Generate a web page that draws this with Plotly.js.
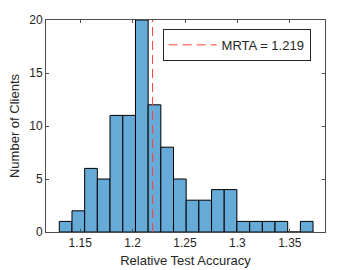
<!DOCTYPE html>
<html>
<head>
<meta charset="utf-8">
<script src="https://cdn.plot.ly/plotly-3.0.1.min.js"></script>
<style>html,body{margin:0;padding:0;background:#fff;}#chart{width:360px;height:270px;}</style>
</head>
<body>
<div id="chart"></div>
<script>
// Histogram bin edges (Relative Test Accuracy)
const binEdges = [1.1300, 1.1421, 1.1542, 1.1663, 1.1784, 1.1906, 1.2027, 1.2148, 1.2269, 1.2390, 1.2511,
                  1.2632, 1.2753, 1.2874, 1.2995, 1.3117, 1.3238, 1.3359, 1.3480, 1.3601, 1.3722];
// Number of clients per bin
const counts = [1, 2, 6, 5, 11, 11, 20, 12, 8, 5, 3, 3, 4, 4, 1, 1, 1, 1, 0, 1];
// Mean relative test accuracy
const mrta = 1.219;
const mrtaLineY = [0, 20];
const xTicks = [1.15, 1.2, 1.25, 1.3, 1.35];
const xTickLabels = ['1.15', '1.2', '1.25', '1.3', '1.35'];
const yTicks = [0, 5, 10, 15, 20];

const centers = counts.map((_, i) => (binEdges[i] + binEdges[i + 1]) / 2);
const widths = counts.map((_, i) => binEdges[i + 1] - binEdges[i]);

const font = {family: 'Liberation Sans, Arial, sans-serif', color: '#262626'};

const data = [
  {
    type: 'bar', x: centers, y: counts, width: widths,
    marker: {color: '#66AAD7', line: {color: '#000000', width: 1}},
    showlegend: false, hoverinfo: 'skip'
  },
  {
    type: 'scatter', mode: 'lines', x: [mrta, mrta], y: mrtaLineY,
    line: {color: '#FF4040', width: 1, dash: '9px,5px'},
    name: 'MRTA = ' + mrta.toFixed(3), showlegend: true
  }
];

const axisCommon = {
  showgrid: false, zeroline: false, showline: true, linecolor: '#4d4d4d', linewidth: 1,
  mirror: 'ticks', ticks: 'inside', ticklen: 3, tickcolor: '#4d4d4d', tickwidth: 1,
  tickfont: Object.assign({size: 12}, font)
};

const layout = {
  width: 360, height: 270,
  margin: {l: 46, r: 35, t: 20, b: 38},
  paper_bgcolor: '#ffffff', plot_bgcolor: '#ffffff',
  font: font,
  bargap: 0,
  xaxis: Object.assign({}, axisCommon, {
    range: [1.1173, 1.3836], tickvals: xTicks, ticktext: xTickLabels,
    title: {text: 'Relative Test Accuracy', font: Object.assign({size: 13}, font), standoff: 6}
  }),
  yaxis: Object.assign({}, axisCommon, {
    range: [0, 20], tickvals: yTicks,
    title: {text: 'Number of Clients', font: Object.assign({size: 13}, font), standoff: 6}
  }),
  legend: {
    x: 0.418, y: 0.958, xanchor: 'left', yanchor: 'top',
    bgcolor: '#ffffff', bordercolor: '#262626', borderwidth: 1,
    font: Object.assign({size: 13}, font),
    itemwidth: 48,
    tracegroupgap: 0
  }
};

Plotly.newPlot('chart', data, layout, {staticPlot: true, displayModeBar: false});
</script>
</body>
</html>
